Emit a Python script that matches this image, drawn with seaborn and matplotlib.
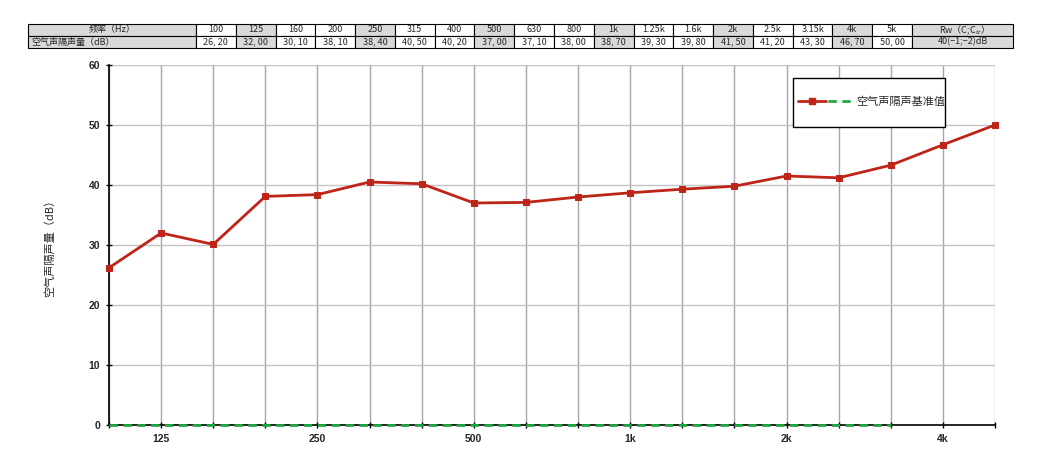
import matplotlib
matplotlib.use("Agg")
import matplotlib.pyplot as plt
import seaborn as sns
import pandas as pd
from matplotlib.legend_handler import HandlerTuple
from matplotlib.patches import Rectangle

# data
freqs = ['100', '125', '160', '200', '250', '315', '400', '500', '630', '800',
         '1k', '1.25k', '1.6k', '2k', '2.5k', '3.15k', '4k', '5k']
insulation = [26.2, 32.0, 30.1, 38.1, 38.4, 40.5, 40.2, 37.0, 37.1, 38.0,
              38.7, 39.3, 39.8, 41.5, 41.2, 43.3, 46.7, 50.0]
baseline = [0] * 16
shown_ticks = ['125', '250', '500', '1k', '2k', '4k']
rw_text = '40(−1;−2)dB'

sns.set_theme(style='white')
plt.rcParams['font.family'] = ['Noto Sans CJK SC', 'DejaVu Sans']

df = pd.DataFrame({'idx': range(len(freqs)), 'freq': freqs, 'R': insulation})
base_df = pd.DataFrame({'idx': range(len(baseline)), 'R': baseline})

fig = plt.figure(figsize=(10.43, 4.49), dpi=100)
ax = fig.add_axes([109 / 1043, 24 / 449, 886 / 1043, 360 / 449])

red = '#BE2418'
green = '#22A845'
sns.lineplot(data=base_df, x='idx', y='R', color=green, linestyle=(0, (3, 2)),
             linewidth=2, ax=ax, zorder=5, clip_on=False)
sns.lineplot(data=df, x='idx', y='R', color=red, marker='s', markersize=5,
             markeredgecolor=red, linewidth=2, ax=ax, zorder=6, clip_on=False)

ax.set_xlim(0, len(freqs) - 1)
ax.set_ylim(0, 60)
ax.set_xticks(range(len(freqs)))
ax.set_xticklabels([f if f in shown_ticks else '' for f in freqs])
ax.set_yticks(range(0, 61, 10))
for lab in ax.get_xticklabels() + ax.get_yticklabels():
    lab.set_fontweight('bold')
    lab.set_fontsize(7.5)
    lab.set_family(['Liberation Sans', 'DejaVu Sans'])
ax.tick_params(axis='both', direction='inout', length=5, width=1, color='black',
               bottom=True, left=True, pad=4)
ax.grid(axis='y', color='#c4c4c4', linewidth=1)
ax.grid(axis='x', color='#a6a6a6', linewidth=1)
ax.set_axisbelow(True)
for s in ['top', 'right']:
    ax.spines[s].set_visible(False)
for s in ['left', 'bottom']:
    ax.spines[s].set_color('black')
    ax.spines[s].set_linewidth(1.2)
ax.set_xlabel('')
ax.set_ylabel('空气声隔声量（dB）', fontsize=8, labelpad=24)

# legend box drawn by hand, then the legend entry inside it
box = Rectangle(((793 - 109) / 886, (425 - 127) / 360), 152 / 886, 49 / 360,
                transform=ax.transAxes, facecolor='white', edgecolor='black',
                linewidth=1, zorder=7)
ax.add_patch(box)
h_red = plt.Line2D([], [], color=red, marker='s', markersize=5, linewidth=2)
h_green = plt.Line2D([], [], color=green, linestyle=(0, (3, 2)), linewidth=2)
leg = ax.legend([(h_red, h_green)], ['空气声隔声基准值'],
                handler_map={tuple: HandlerTuple(ndivide=None, pad=0.2)},
                handlelength=5.2, handletextpad=0.05, fontsize=8,
                loc='center left', bbox_to_anchor=((798 - 109) / 886, (425 - 102) / 360),
                frameon=False, borderpad=0, borderaxespad=0)
leg.set_zorder(8)

# table above the chart
grey_cols = ['125', '250', '500', '1k', '2k', '4k']
row1 = ['频率（Hz）'] + freqs + ['Rw（C;C$_{tr}$）']
row2 = ['空气声隔声量（dB）'] + [f'{v:.2f}'.replace('.', ', ') for v in insulation] + [rw_text]
col_w = [168] + [716 / len(freqs)] * len(freqs) + [101]
tot = sum(col_w)
tbl = ax.table(cellText=[row1, row2], colWidths=[w / tot for w in col_w],
               cellLoc='center',
               bbox=[(28 - 109) / 886, (425 - 48) / 360, tot / 886, 24 / 360])
tbl.auto_set_font_size(False)
tbl.set_fontsize(6.5)
for (r, c), cell in tbl.get_celld().items():
    cell.set_linewidth(0.8)
    cell.set_edgecolor('black')
    cell.PAD = 0.02
    if c == 0 or c == len(row1) - 1 or (1 <= c <= len(freqs) and freqs[c - 1] in grey_cols):
        cell.set_facecolor('#d9d9d9')
    if c == 0 and r == 1:
        cell.get_text().set_ha('left')
        cell._loc = 'left'

fig.savefig('out.png', dpi=100)
